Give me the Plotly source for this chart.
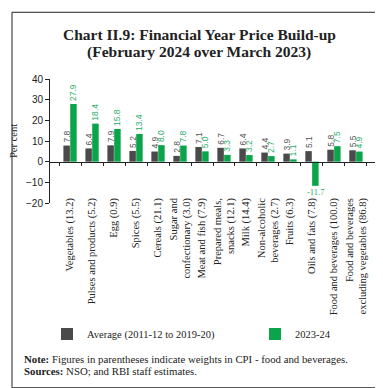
import plotly.graph_objects as go

categories = [
    "Vegetables (13.2)",
    "Pulses and products (5.2)",
    "Egg (0.9)",
    "Spices (5.5)",
    "Cereals (21.1)",
    "Sugar and<br>confectionary (3.0)",
    "Meat and fish (7.9)",
    "Prepared meals,<br>snacks (12.1)",
    "Milk (14.4)",
    "Non-alcoholic<br>beverages (2.7)",
    "Fruits (6.3)",
    "Oils and fats (7.8)",
    "Food and beverages (100.0)",
    "Food and beverages<br>excluding vegetables (86.8)",
]
avg_values = [7.8, 6.4, 7.9, 5.2, 4.9, 2.8, 7.1, 6.7, 6.4, 4.4, 3.9, 5.1, 5.8, 5.5]
cur_values = [27.9, 18.4, 15.8, 13.4, 8.0, 7.8, 5.0, 3.3, 3.2, 2.7, 1.1, -11.7, 7.5, 4.9]
series_names = ["Average (2011-12 to 2019-20)", "2023-24"]
y_ticks = [-20, -10, 0, 10, 20, 30, 40]

DARK = "#4a4a4a"
GREEN = "#0aa54b"
GREEN_TXT = "#2aae6a"
SERIF = "Liberation Serif, DejaVu Serif, serif"
SANS = "Liberation Sans, Arial, sans-serif"

W, H = 383, 388
L, R, T, B = 42, 15, 71, 192.5
pw, ph = W - L - R, H - T - B

def px_x(px):
    return (px - L) / pw

def px_y(py):
    return (H - B - py) / ph

fig = go.Figure()
fig.add_trace(go.Bar(
    x=categories, y=avg_values, name=series_names[0], legend="legend",
    marker=dict(color=DARK, line=dict(width=0)),
    text=[f"{v:.1f}" for v in avg_values], textposition="outside",
    textangle=-90, textfont=dict(size=8.5, color="#555555", family=SANS),
    cliponaxis=False, constraintext="none",
))
fig.add_trace(go.Bar(
    x=categories, y=cur_values, name=series_names[1], legend="legend2",
    marker=dict(color=GREEN, line=dict(width=0)),
    text=[f"{v:.1f}" if v >= 0 else "" for v in cur_values], textposition="outside",
    textangle=-90, textfont=dict(size=8.5, color=GREEN_TXT, family=SANS),
    cliponaxis=False, constraintext="none",
))

# horizontal label for negative value
for c, v in zip(categories, cur_values):
    if v < 0:
        fig.add_annotation(x=c, y=v, text=f"{v:.1f}", showarrow=False,
                           yanchor="top", xshift=4, yshift=1,
                           font=dict(size=8.5, color=GREEN_TXT, family=SERIF))

# overlay axis at zero line with ticks at category boundaries
fig.add_trace(go.Scatter(x=categories, y=[None] * len(categories), xaxis="x2",
                         showlegend=False, hoverinfo="skip"))

legend_common = dict(orientation="h", xanchor="left", yanchor="middle",
                     font=dict(size=10.5, family=SERIF, color="#222222"),
                     itemwidth=30, bgcolor="rgba(0,0,0,0)", borderwidth=0)

fig.update_layout(
    width=W, height=H,
    margin=dict(l=L, r=R, t=T, b=B, autoexpand=False),
    paper_bgcolor="white", plot_bgcolor="white",
    barmode="group", bargap=0.38, bargroupgap=0.05,
    font=dict(family=SERIF, color="#222222"),
    showlegend=True,
    legend=dict(x=px_x(39), y=px_y(327), **legend_common),
    legend2=dict(x=px_x(247), y=px_y(327), **legend_common),
    xaxis=dict(
        type="category", tickangle=-90, showline=False, ticks="",
        tickfont=dict(size=10.5, family=SERIF, color="#222222"),
        showgrid=False, zeroline=False, automargin=False,
        ticklabelstandoff=-8,
    ),
    xaxis2=dict(
        type="category", overlaying="x", anchor="free", position=1/3,
        side="bottom", showline=True, linecolor="#222222", linewidth=1,
        ticks="outside", ticklen=3, tickcolor="#222222", tickson="boundaries",
        showticklabels=False, showgrid=False, zeroline=False,
        matches="x", automargin=False,
    ),
    yaxis=dict(
        range=[-20, 40], tickvals=y_ticks, showline=True, linecolor="#222222",
        linewidth=1, ticks="outside", ticklen=4, tickcolor="#222222",
        showgrid=False, zeroline=False, automargin=False,
        tickfont=dict(size=10, family=SANS, color="#222222"),
        title=dict(text="Per cent", font=dict(size=10.5, family=SERIF, color="#222222"),
                   standoff=6),
    ),
)

# title
fig.add_annotation(xref="paper", yref="paper", x=px_x(191), y=px_y(26),
                   text="<b>Chart II.9: Financial Year Price Build-up</b>",
                   showarrow=False, xanchor="center", yanchor="middle",
                   font=dict(size=15.5, family=SERIF, color="#222222"))
fig.add_annotation(xref="paper", yref="paper", x=px_x(191), y=px_y(44),
                   text="<b>(February 2024 over March 2023)</b>",
                   showarrow=False, xanchor="center", yanchor="middle",
                   font=dict(size=15.5, family=SERIF, color="#222222"))
# notes
fig.add_annotation(xref="paper", yref="paper", x=px_x(14), y=px_y(352),
                   text="<b>Note:</b> Figures in parentheses indicate weights in CPI - food and beverages.",
                   showarrow=False, xanchor="left", yanchor="middle",
                   font=dict(size=10.8, family=SERIF, color="#222222"))
fig.add_annotation(xref="paper", yref="paper", x=px_x(14), y=px_y(364),
                   text="<b>Sources:</b> NSO; and RBI staff estimates.",
                   showarrow=False, xanchor="left", yanchor="middle",
                   font=dict(size=10.8, family=SERIF, color="#222222"))
# border
fig.add_shape(type="rect", xref="paper", yref="paper",
              x0=px_x(4), x1=px_x(379), y0=px_y(381), y1=px_y(4),
              line=dict(color="#222222", width=1), fillcolor="rgba(0,0,0,0)")

fig.write_html("out.html")
